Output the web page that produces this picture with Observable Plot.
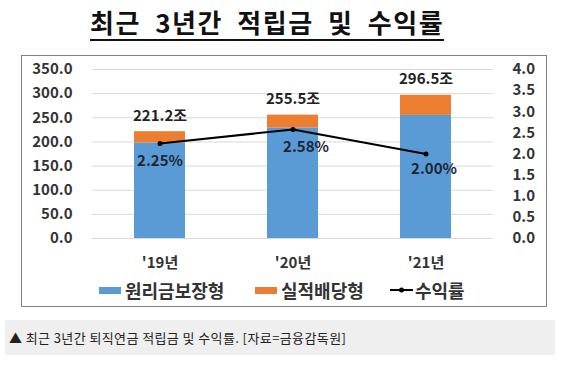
<!DOCTYPE html>
<html><head><meta charset="utf-8">
<script src="https://cdn.jsdelivr.net/npm/d3@7"></script>
<script src="https://cdn.jsdelivr.net/npm/@observablehq/plot@0.6"></script>
<style>
body{margin:0;background:#fff;width:563px;height:367px;position:relative;overflow:hidden;font-family:"Noto Sans CJK KR","Noto Sans",sans-serif;color:#222;}
#title{position:absolute;left:90px;top:6px;font-size:26px;font-weight:700;line-height:32px;color:#111;border-bottom:2px solid #111;padding-bottom:1px;white-space:nowrap;letter-spacing:1.5px;word-spacing:7px;}
#box{position:absolute;left:21px;top:55px;width:524px;height:250px;border:1px solid #808080;}
#chart{position:absolute;left:0;top:0;}
.leg{position:absolute;top:221px;height:26px;display:flex;align-items:center;font-size:18px;font-weight:700;color:#333;white-space:nowrap;}
.sw{width:22px;height:7px;margin-right:4px;}
#caption{position:absolute;left:5px;top:320px;width:550px;height:35px;background:#efefef;font-size:13px;line-height:35px;color:#222;letter-spacing:0.4px;}
#caption span{padding-left:4px;}
</style></head>
<body>
<div id="title">최근 3년간 적립금 및 수익률</div>
<div id="box">
  <div id="chart"></div>
  <div id="legend"></div>
</div>
<div id="caption"><span>▲ 최근 3년간 퇴직연금 적립금 및 수익률. [자료=금융감독원]</span></div>
<script>
const years = ["'19년", "'20년", "'21년"];
const guaranteed = [198.0, 229.0, 255.0];     // 원리금보장형
const performance = [23.2, 26.5, 41.5];       // 실적배당형
const totalLabels = ["221.2조", "255.5조", "296.5조"];
const rates = [2.25, 2.58, 2.00];             // 수익률 (%)
const rateLabels = ["2.25%", "2.58%", "2.00%"];
const seriesNames = ["원리금보장형", "실적배당형", "수익률"];
const seriesColors = ["#5B9BD5", "#ED7D31", "#000000"];
const leftTicks = [0, 50, 100, 150, 200, 250, 300, 350];
const rightTicks = [0, 0.5, 1, 1.5, 2, 2.5, 3, 3.5, 4];

const k = 350 / 4;
const stacked = years.flatMap((y, i) => [
  {year: y, type: seriesNames[0], value: guaranteed[i]},
  {year: y, type: seriesNames[1], value: performance[i]}
]);
const rows = years.map((y, i) => ({
  year: y, total: guaranteed[i] + performance[i], label: totalLabels[i],
  rate: rates[i], rateLabel: rateLabels[i]
}));
const rateOffsets = {"'19년": [0, 18], "'20년": [13, 18], "'21년": [8, 15]};

const chart = Plot.plot({
  width: 524, height: 215,
  marginLeft: 70, marginRight: 53, marginTop: 13, marginBottom: 33,
  style: {fontFamily: '"Noto Sans CJK KR", sans-serif', fontSize: "15px", fontWeight: 700, color: "#333", background: "transparent"},
  x: {domain: years, paddingInner: 0.62, paddingOuter: 0.31},
  y: {domain: [0, 350]},
  color: {domain: seriesNames.slice(0, 2), range: seriesColors.slice(0, 2)},
  marks: [
    Plot.gridY(leftTicks, {stroke: "#d9d9d9", strokeOpacity: 1}),
    Plot.axisY({ticks: leftTicks, tickSize: 0, tickPadding: 20, tickFormat: d => d.toFixed(1), label: null}),
    Plot.axisY({anchor: "right", ticks: rightTicks.map(v => v * k), tickSize: 0, tickPadding: 19, tickFormat: d => (d / k).toFixed(1), label: null}),
    Plot.axisX({tickSize: 0, tickPadding: 19, label: null}),
    Plot.barY(stacked, {x: "year", y: "value", fill: "type"}),
    Plot.line(rows, {x: "year", y: d => d.rate * k, stroke: "#000", strokeWidth: 2}),
    Plot.dot(rows, {x: "year", y: d => d.rate * k, r: 2.5, fill: "#000"}),
    Plot.text(rows, {x: "year", y: "total", text: "label", dy: -16, fontSize: 15, fontWeight: 700, fill: "#222"}),
    ...years.map(yr => Plot.text(rows.filter(d => d.year === yr), {
      x: "year", y: d => d.rate * k, text: "rateLabel",
      dx: rateOffsets[yr][0], dy: rateOffsets[yr][1], fontSize: 15, fontWeight: 700, fill: "#1c2636"
    }))
  ]
});
document.getElementById("chart").appendChild(chart);

// legend
const legend = document.getElementById("legend");
const legX = [77, 233, 368];
seriesNames.forEach((name, i) => {
  const item = document.createElement("div");
  item.className = "leg";
  item.style.left = legX[i] + "px";
  if (i < 2) {
    const sw = document.createElement("div");
    sw.className = "sw";
    sw.style.background = seriesColors[i];
    item.appendChild(sw);
  } else {
    const s = d3.create("svg").attr("width", 24).attr("height", 10).style("margin-right", "1px");
    s.append("line").attr("x1", 0).attr("x2", 23).attr("y1", 5).attr("y2", 5).attr("stroke", seriesColors[i]).attr("stroke-width", 2);
    s.append("circle").attr("cx", 11.5).attr("cy", 5).attr("r", 2.5).attr("fill", seriesColors[i]);
    item.appendChild(s.node());
  }
  const t = document.createElement("span");
  t.textContent = name;
  item.appendChild(t);
  legend.appendChild(item);
});
</script>
</body></html>
